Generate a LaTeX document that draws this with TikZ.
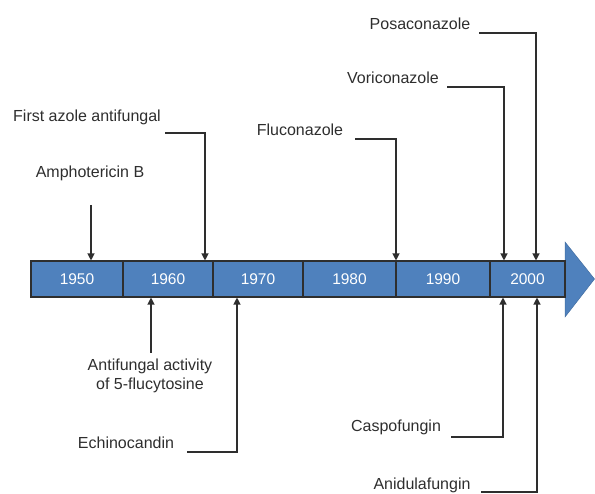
\documentclass[tikz,border=0pt]{standalone}
\usepackage{fontspec}
\setmainfont{Liberation Sans}
\usetikzlibrary{arrows.meta}
\definecolor{barblue}{HTML}{4F81BD}
\definecolor{ink}{HTML}{2E2E2E}
\begin{document}
\begin{tikzpicture}[x=1pt,y=-1pt,
  cell/.style={draw=ink, line width=1.1pt, fill=barblue, text=white, font=\fontsize{15.5}{17}\selectfont, inner sep=0pt, minimum height=36pt},
  lbl/.style={text=ink, font=\fontsize{16}{18.5}\selectfont, inner sep=0pt, align=center},
  conn/.style={draw=ink, line width=1.2pt, -{Triangle[length=7pt,width=7pt]}}]
\useasboundingbox (0,0) rectangle (595,494);
% arrow head
\filldraw[fill=barblue, draw=barblue!85!black, line width=0.5pt] (565,242) -- (594.5,279) -- (565,317) -- cycle;
% cells
\node[cell, minimum width=92pt] (c1) at (77,279) {1950};
\node[cell, minimum width=90pt] (c2) at (168,279) {1960};
\node[cell, minimum width=90pt] (c3) at (258,279) {1970};
\node[cell, minimum width=93pt] (c4) at (349.5,279) {1980};
\node[cell, minimum width=94pt] (c5) at (443,279) {1990};
\node[cell, minimum width=75pt] (c6) at (527.5,279) {2000};
% labels above
\node[lbl] (amph) at (90,173) {Amphotericin B};
\node[lbl] (azole) at (87,117) {First azole antifungal};
\node[lbl] (fluc) at (300,130) {Fluconazole};
\node[lbl] (vori) at (393,78) {Voriconazole};
\node[lbl] (posa) at (420,24) {Posaconazole};
% labels below
\node[lbl] (fcyt) at (150,376) {Antifungal activity\\of 5-flucytosine};
\node[lbl] (echi) at (126,443) {Echinocandin};
\node[lbl] (casp) at (396,427) {Caspofungin};
\node[lbl] (anid) at (422,485.5) {Anidulafungin};
% connector anchor points
\coordinate (amphS) at (91,205);
\coordinate (azoleS) at (165,133);
\coordinate (azoleB) at (205,133);
\coordinate (flucS) at (355,139);
\coordinate (flucB) at (396,139);
\coordinate (voriS) at (447,87);
\coordinate (voriB) at (504,87);
\coordinate (posaS) at (479,33);
\coordinate (posaB) at (536,33);
\coordinate (fcytS) at (151,353);
\coordinate (echiS) at (187,452);
\coordinate (echiB) at (237,452);
\coordinate (caspS) at (451,437);
\coordinate (caspB) at (503,437);
\coordinate (anidS) at (481,492);
\coordinate (anidB) at (537,492);
% connectors
\draw[conn] (amphS) -- (amphS |- c1.north);
\draw[conn] (azoleS) -- (azoleB) -- (azoleB |- c2.north);
\draw[conn] (flucS) -- (flucB) -- (flucB |- c5.north);
\draw[conn] (voriS) -- (voriB) -- (voriB |- c6.north);
\draw[conn] (posaS) -- (posaB) -- (posaB |- c6.north);
\draw[conn] (fcytS) -- (fcytS |- c2.south);
\draw[conn] (echiS) -- (echiB) -- (echiB |- c3.south);
\draw[conn] (caspS) -- (caspB) -- (caspB |- c6.south);
\draw[conn] (anidS) -- (anidB) -- (anidB |- c6.south);
\end{tikzpicture}
\end{document}
